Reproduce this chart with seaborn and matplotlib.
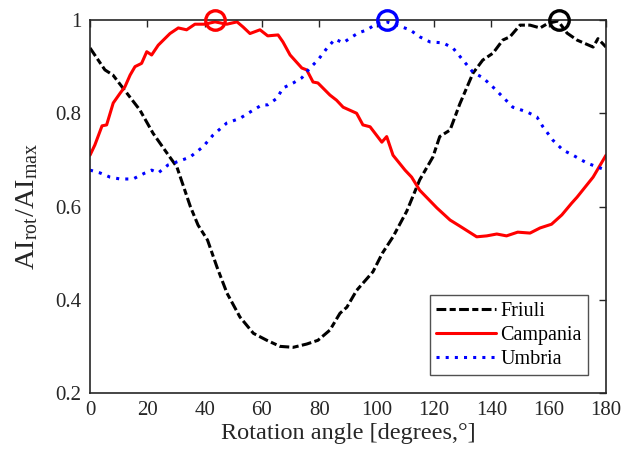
import numpy as np
import pandas as pd
import matplotlib
matplotlib.use("Agg")
import matplotlib.pyplot as plt
import seaborn as sns

# ---- data ----
friuli_x = [0, 5.2, 8, 11.5, 17.4, 22, 26.8, 30.3, 35, 37.7, 41, 44.3, 47.8, 52.3, 57, 61.7,
            66.3, 70.9, 75.6, 79.5, 83.7, 87.2, 89.6, 93, 98.7, 102, 105.7, 110.5, 115, 119.6,
            122, 125.6, 129, 133.6, 137, 140.6, 144, 146.5, 150, 153.5, 157, 159.8, 163.3,
            166.4, 169.9, 175.5, 177.2, 180]
friuli_y = [0.94, 0.893, 0.882, 0.854, 0.807, 0.757, 0.715, 0.685, 0.60, 0.56, 0.528, 0.47,
            0.414, 0.363, 0.328, 0.313, 0.30, 0.298, 0.305, 0.313, 0.335, 0.371, 0.384, 0.42,
            0.46, 0.50, 0.535, 0.59, 0.657, 0.706, 0.75, 0.764, 0.82, 0.886, 0.914, 0.929,
            0.957, 0.964, 0.989, 0.989, 0.983, 0.993, 0.998, 0.972, 0.957, 0.942, 0.96, 0.942]

campania_x = [0, 1.7, 4.2, 5.8, 8.1, 10.5, 12.2, 14, 15.7, 18, 19.8, 21.5, 23.8, 25.6, 27.9,
              30.8, 33.7, 36.6, 40, 43.6, 47.7, 51.3, 53.4, 55.8, 59.3, 62, 65.6, 67.3, 69.8,
              73.9, 75.6, 77.8, 79.5, 83.7, 86, 88.3, 93, 95.2, 97.7, 101.8, 103.5, 105.7,
              109.9, 112.2, 115, 121, 125.6, 129, 134.9, 138.4, 141.9, 145.3, 149.2, 153.5,
              157, 161, 164.6, 168, 169.9, 175.5, 180]
campania_y = [0.71, 0.732, 0.773, 0.775, 0.822, 0.843, 0.857, 0.882, 0.90, 0.907, 0.932, 0.925,
              0.946, 0.957, 0.971, 0.983, 0.979, 0.991, 0.991, 0.996, 0.991, 0.996, 0.985,
              0.971, 0.979, 0.966, 0.968, 0.953, 0.925, 0.897, 0.893, 0.867, 0.865, 0.839,
              0.828, 0.813, 0.80, 0.775, 0.771, 0.738, 0.75, 0.71, 0.678, 0.663, 0.635, 0.597,
              0.571, 0.558, 0.535, 0.537, 0.541, 0.537, 0.545, 0.543, 0.554, 0.562, 0.582,
              0.607, 0.62, 0.663, 0.71]

umbria_x = [0, 3.5, 7, 10.5, 15, 19.2, 21.5, 23.8, 27.2, 31.4, 34.9, 39.4, 42.9, 47.7, 52.3,
            57, 60, 62, 65.2, 67.3, 70.9, 73.9, 76.7, 79.5, 82.7, 85.5, 88.3, 90.7, 93.5,
            96.7, 100.1, 103.5, 107, 111.6, 115, 118.6, 123.1, 126.6, 130.1, 133.6, 137.1,
            140.6, 144, 147.5, 152.4, 155.9, 158, 161.5, 165, 168.5, 173.4, 176.9, 180]
umbria_y = [0.678, 0.672, 0.663, 0.659, 0.659, 0.672, 0.678, 0.672, 0.689, 0.698, 0.706, 0.728,
            0.753, 0.779, 0.789, 0.807, 0.818, 0.818, 0.832, 0.854, 0.865, 0.876, 0.897, 0.914,
            0.94, 0.959, 0.951, 0.961, 0.972, 0.979, 0.993, 0.996, 0.989, 0.979, 0.964, 0.953,
            0.951, 0.94, 0.914, 0.888, 0.876, 0.856, 0.835, 0.813, 0.803, 0.792, 0.771, 0.742,
            0.721, 0.71, 0.693, 0.685, 0.678]

series = ["Friuli", "Campania", "Umbria"]
colors = ["black", "red", "blue"]
peak_x = [163.5, 43.6, 103.5]
peak_y = [1.0, 1.0, 1.0]

x_ticks = [0, 20, 40, 60, 80, 100, 120, 140, 160, 180]
y_ticks = [0.2, 0.4, 0.6, 0.8, 1.0]
y_tick_labels = ["0.2", "0.4", "0.6", "0.8", "1"]

# ---- style ----
sns.set_theme(style="white")
plt.rcParams["font.family"] = ["Liberation Serif", "DejaVu Serif"]
plt.rcParams["mathtext.fontset"] = "custom"
plt.rcParams["mathtext.rm"] = "Liberation Serif"
plt.rcParams["mathtext.it"] = "Liberation Serif:italic"

fig = plt.figure(figsize=(6.25, 4.61), dpi=100)
ax = fig.add_axes([0.144, 0.1475, 0.8256, 0.8091])

frames = []
for name, xs, ys in zip(series, [friuli_x, campania_x, umbria_x],
                        [friuli_y, campania_y, umbria_y]):
    frames.append(pd.DataFrame({"angle": xs, "value": ys, "region": name}))
df = pd.concat(frames, ignore_index=True)

dashes = {"Friuli": (3.2, 1.1, 2.0, 1.1), "Campania": "", "Umbria": (1, 2)}
sns.lineplot(data=df, x="angle", y="value", hue="region", style="region",
             hue_order=series, style_order=series, palette=colors, dashes=dashes,
             estimator=None, sort=False, linewidth=2.2, ax=ax)

peaks = pd.DataFrame({"angle": peak_x, "value": peak_y, "region": series})
for (_, r), c in zip(peaks.iterrows(), colors):
    ax.plot(r["angle"], r["value"], marker="o", markersize=14, markerfacecolor="none",
            markeredgecolor=c, markeredgewidth=2.4, linestyle="none", clip_on=False, zorder=5)

ax.set_xlim(0, 180)
ax.set_ylim(0.2, 1.0)
ax.set_xticks(x_ticks)
ax.set_yticks(y_ticks)
ax.set_yticklabels(y_tick_labels)
ax.tick_params(direction="in", length=5, width=1.0, top=True, right=True,
               labelsize=15, colors="#262626", pad=6)
for s in ax.spines.values():
    s.set_color("#262626")
    s.set_linewidth(1.2)

ax.set_xlabel("Rotation angle [degrees,°]", fontsize=17.5, color="#262626", labelpad=2)
ax.set_ylabel(r"AI$_{\mathrm{rot}}$/AI$_{\mathrm{max}}$", fontsize=20.5, color="#262626",
              labelpad=11)

leg = ax.legend(loc="lower right", fontsize=14.5, frameon=True, fancybox=False,
                edgecolor="#262626", handlelength=3.0, handletextpad=0.2,
                labelspacing=0.25, borderpad=0.3, borderaxespad=0.9)
leg.get_frame().set_linewidth(1.0)
for t in leg.get_texts():
    t.set_color("black")

fig.savefig("out.png", dpi=100, facecolor="white")
